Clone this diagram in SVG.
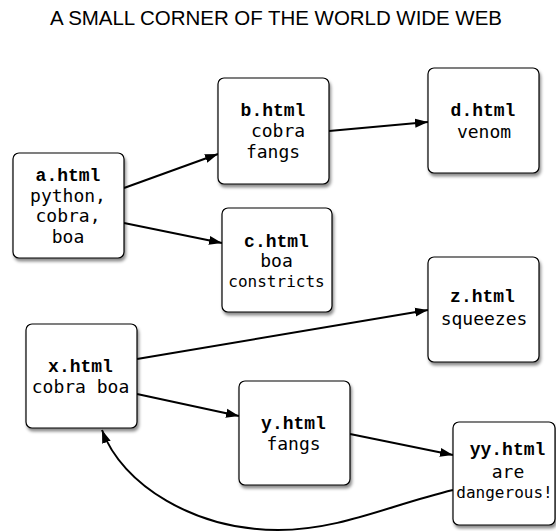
<svg xmlns="http://www.w3.org/2000/svg" width="556" height="531" viewBox="0 0 556 531">
<defs>
<filter id="sh" x="-20%" y="-20%" width="150%" height="150%">
<feDropShadow dx="1.5" dy="3" stdDeviation="1.5" flood-color="#000" flood-opacity="0.45"/>
</filter>
<marker id="ah" markerUnits="userSpaceOnUse" markerWidth="14" markerHeight="10" refX="13" refY="5" orient="auto">
<path d="M0,0.5 L13,5 L0,9.5 z" fill="#000"/>
</marker>
<style>
.box{fill:#fff;stroke:#000;stroke-width:1.2;filter:url(#sh)}
.h{font-family:"Liberation Mono","Courier New",monospace;font-weight:bold;font-size:18px;fill:#000;text-anchor:middle}
.t{font-family:"DejaVu Sans Mono","Bitstream Vera Sans Mono",monospace;font-size:18px;fill:#000;text-anchor:middle}
.s{font-size:16px}
.c{fill:none;stroke:#000;stroke-width:2;marker-end:url(#ah)}
.title{font-family:"Liberation Sans",Arial,sans-serif;font-size:20.5px;fill:#000}
</style>
</defs>
<text class="title" x="50" y="25" textLength="452">A SMALL CORNER OF THE WORLD WIDE WEB</text>
<g id="connectors">
<line class="c" x1="124" y1="188" x2="218" y2="154"/>
<line class="c" x1="124" y1="223" x2="222" y2="243"/>
<line class="c" x1="329" y1="131" x2="428" y2="122"/>
<line class="c" x1="137" y1="359" x2="428" y2="310"/>
<line class="c" x1="137" y1="394" x2="239" y2="416"/>
<line class="c" x1="350" y1="434" x2="453" y2="455"/>
<path class="c" d="M453,490 C390,505 340,530 278,530 C195,530 122,485 102,430"/>
</g>
<g id="a">
<rect class="box" x="13" y="153" width="111" height="105" rx="6"/>
<text class="h" x="68" y="181">a.html</text>
<text class="t" x="68" y="201.7">python,</text>
<text class="t" x="68" y="222.4">cobra,</text>
<text class="t" x="68" y="243">boa</text>
</g>
<g id="b">
<rect class="box" x="218" y="78" width="111" height="106" rx="6"/>
<text class="h" x="273" y="116">b.html</text>
<text class="t" x="278" y="137">cobra</text>
<text class="t" x="273" y="157.5">fangs</text>
</g>
<g id="c">
<rect class="box" x="222" y="208" width="110" height="104" rx="6"/>
<text class="h" x="276.5" y="246.7">c.html</text>
<text class="t" x="276.5" y="266.7">boa</text>
<text class="t s" x="276.5" y="286.7">constricts</text>
</g>
<g id="d">
<rect class="box" x="428" y="68" width="111" height="105" rx="6"/>
<text class="h" x="483" y="115.7">d.html</text>
<text class="t" x="484" y="137.7">venom</text>
</g>
<g id="z">
<rect class="box" x="428" y="257" width="111" height="105" rx="6"/>
<text class="h" x="482.5" y="302">z.html</text>
<text class="t" x="484" y="324.5">squeezes</text>
</g>
<g id="x">
<rect class="box" x="26" y="324" width="111" height="104" rx="6"/>
<text class="h" x="80.5" y="371.7">x.html</text>
<text class="t" x="80.5" y="392.7">cobra boa</text>
</g>
<g id="y">
<rect class="box" x="239" y="381" width="111" height="104" rx="6"/>
<text class="h" x="293.5" y="428.7">y.html</text>
<text class="t" x="293.5" y="449.7">fangs</text>
</g>
<g id="yy">
<rect class="box" x="453" y="422" width="102" height="103" rx="6"/>
<text class="h" x="507.5" y="454.7">yy.html</text>
<text class="t" x="508" y="477.5">are</text>
<text class="t s" x="504.5" y="498">dangerous!</text>
</g>
</svg>
